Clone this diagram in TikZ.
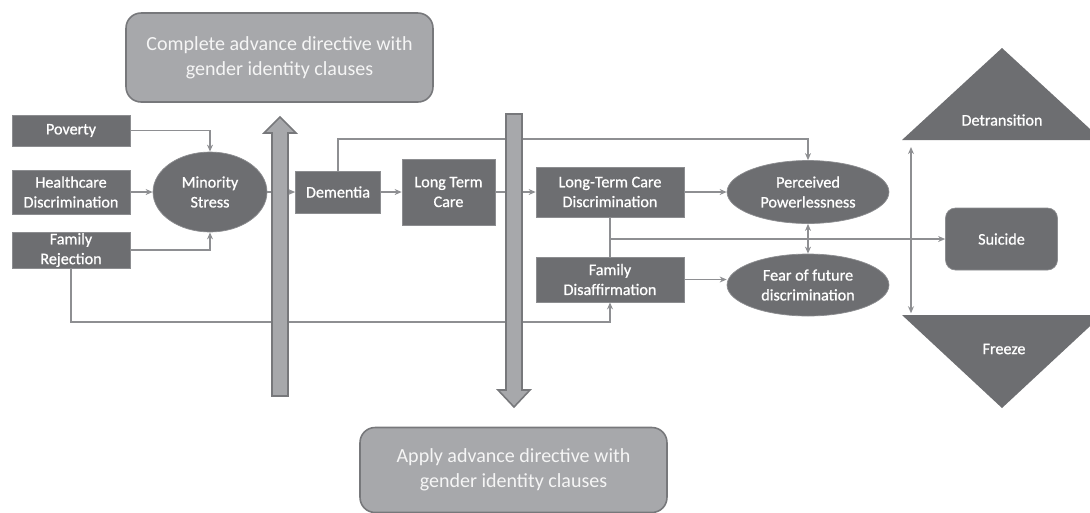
\documentclass[tikz,border=0pt]{standalone}
\usepackage{fontspec}
\setmainfont{Carlito}
\newfontfamily\labelfont[FakeBold=0.8]{Carlito}
\usepackage{tikz}
\usetikzlibrary{arrows.meta,shapes.geometric}
\definecolor{boxfill}{HTML}{6D6E71}
\definecolor{boxline}{HTML}{8C8D90}
\definecolor{notefill}{HTML}{A7A8AB}
\definecolor{noteline}{HTML}{77787B}
\definecolor{linecol}{HTML}{8E8F92}

\begin{document}
\begin{tikzpicture}[x=0.02cm,y=-0.02cm,
  box/.style={draw=boxline,fill=boxfill,text=white,align=center,inner sep=0pt,font=\labelfont\fontsize{9.2}{11.3}\selectfont},
  oval/.style={box,ellipse},
  note/.style={draw=noteline,line width=0.9pt,fill=notefill,rounded corners=0.3cm,text=white!96!black,align=center,inner sep=0pt,font=\fontsize{11.4}{14.2}\selectfont},
  link/.style={draw=linecol,line width=0.8pt,-{Stealth[length=4pt,width=3.4pt]}},
  plain/.style={draw=linecol,line width=0.8pt},
  dlink/.style={link,{Stealth[length=4pt,width=3.4pt]}-{Stealth[length=4pt,width=3.4pt]}},
  bigarrow/.style={fill=notefill,draw=noteline,line width=0.9pt}]
\useasboundingbox (0,0) rectangle (1090,512);
%\draw [help lines,step=50] (0,0) grid (1090,512);
\node[note,minimum width=6.14cm,minimum height=1.78cm] (complete) at (279.5,57.5) {Complete advance directive with\\gender identity clauses};
\node[note,minimum width=6.14cm,minimum height=1.7cm] (apply) at (513.5,470) {Apply advance directive with\\gender identity clauses};
\node[box,minimum width=2.36cm,minimum height=0.62cm] (pov) at (71,130.5) {Poverty};
\node[box,minimum width=2.36cm,minimum height=0.88cm] (hcd) at (71,192) {Healthcare\\Discrimination};
\node[box,minimum width=2.36cm,minimum height=0.72cm] (famrej) at (71,250) {Family\\Rejection};
\node[oval,minimum width=2.28cm,minimum height=1.6cm] (ms) at (210,192) {Minority\\Stress};
\node[box,minimum width=1.7cm,minimum height=0.84cm] (dem) at (338,192) {Dementia};
\node[box,minimum width=1.86cm,minimum height=1.32cm] (ltc) at (448.5,192) {Long Term\\Care};
\node[box,minimum width=2.96cm,minimum height=1.0cm] (ltcd) at (610,192) {Long-Term Care\\Discrimination};
\node[box,minimum width=2.96cm,minimum height=0.9cm] (famd) at (610,279.5) {Family\\Disaffirmation};
\node[oval,minimum width=3.24cm,minimum height=1.26cm] (pp) at (808,192) {Perceived\\Powerlessness};
\node[oval,minimum width=3.24cm,minimum height=1.24cm] (fear) at (808,285) {Fear of future\\discrimination};
\node[box,rounded corners=0.2cm,minimum width=2.24cm,minimum height=1.24cm] (sui) at (1001.5,239) {Suicide};
\fill[boxfill] (902,140) -- (1002,48) -- (1102,140) -- cycle;
\fill[boxfill] (902,315) -- (1002,408) -- (1102,315) -- cycle;
\node[text=white,font=\labelfont\fontsize{9.2}{11.3}\selectfont] (detr) at (1002,120) {Detransition};
\node[text=white,font=\labelfont\fontsize{9.2}{11.3}\selectfont] (frz) at (1004,349) {Freeze};
\coordinate (detbase) at (911,140); \coordinate (frztop) at (911,315);
\coordinate (lowrow) at (71,322); \coordinate (toprow) at (338,139);

\draw[link] (pov.east) -| (ms.north); \draw[link] (hcd) -- (ms); \draw[link] (famrej.east) -| (ms.south);
\draw[link] (famrej.south) -- (lowrow) -| (famd.south);
\draw[link] (ms) -- (dem); \draw[link] (dem) -- (ltc); \draw[link] (ltc) -- (ltcd);
\draw[link] (dem.north) -- (toprow) -| (pp.north);
\draw[link] (ltcd) -- (pp); \draw[link] (famd.east) -- (fear.west |- famd.east);
\draw[plain] (ltcd.south) -- (famd.north); \draw[link] (ltcd.south |- sui.west) -- (sui.west);
\draw[dlink] (pp) -- (fear);
\draw[dlink,shorten <=4pt,shorten >=1pt] (detbase) -- (frztop);

% block arrows on top of the lines
\draw[bigarrow] (272,396) -- (272,133) -- (264,133) -- (280,117) -- (296,133) -- (288,133) -- (288,396) -- cycle;
\draw[bigarrow] (506,114) -- (506,390) -- (498,390) -- (514,407) -- (530,390) -- (522,390) -- (522,114) -- cycle;
\end{tikzpicture}
\end{document}
